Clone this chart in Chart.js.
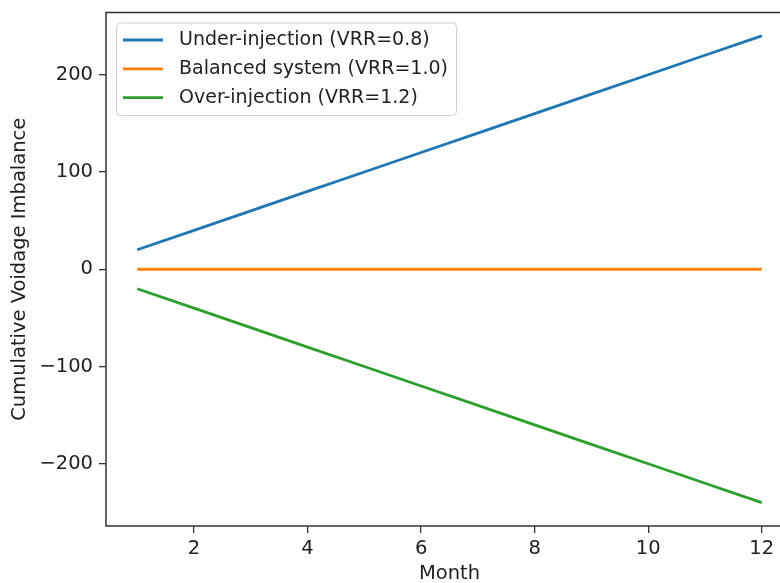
<!DOCTYPE html>
<html>
<head>
<meta charset="utf-8">
<script src="https://cdn.jsdelivr.net/npm/chart.js@4"></script>
<style>
  html, body { margin: 0; padding: 0; background: #fff; overflow: hidden; }
  #wrap { width: 780px; height: 583px; overflow: hidden; }
</style>
</head>
<body>
<div id="wrap"><canvas id="myChart" width="800" height="583"></canvas></div>
<script>
const months = [1, 2, 3, 4, 5, 6, 7, 8, 9, 10, 11, 12];
const underInjection = [20, 40, 60, 80, 100, 120, 140, 160, 180, 200, 220, 240];
const balanced = [0, 0, 0, 0, 0, 0, 0, 0, 0, 0, 0, 0];
const overInjection = [-20, -40, -60, -80, -100, -120, -140, -160, -180, -200, -220, -240];
const xTicks = [2, 4, 6, 8, 10, 12];
const yTicks = [-200, -100, 0, 100, 200];

const ctx = document.getElementById('myChart');
const textColor = '#1f1f1f';
const spineColor = '#333333';
const fs = 19.5;
const font = { family: 'DejaVu Sans', size: fs };

const toPoints = (ys) => months.map((m, i) => ({ x: m, y: ys[i] }));

// marco del area de la grafica
const frame = {
  id: 'frame',
  afterDatasetsDraw(chart) {
    const c = chart.ctx;
    const a = chart.chartArea;
    c.save();
    c.strokeStyle = spineColor;
    c.lineWidth = 1.5;
    c.strokeRect(a.left, a.top, a.right - a.left, a.bottom - a.top);
    c.restore();
  }
};

// leyenda dibujada dentro del area, arriba a la izquierda
const legendBox = {
  id: 'legendBox',
  afterDraw(chart) {
    const c = chart.ctx;
    const a = chart.chartArea;
    const sets = chart.data.datasets;
    c.save();
    c.font = '19px "DejaVu Sans"';
    const textW = Math.max(...sets.map(d => c.measureText(d.label).width));
    const bx = a.left + 10, by = a.top + 10;
    const pad = 7, handle = 40, gap = 16, rowH = 28.8, first = 17.5;
    const bw = pad + handle + gap + textW + 8;
    const bh = first * 2 + rowH * (sets.length - 1);
    c.fillStyle = 'rgba(255,255,255,0.8)';
    c.strokeStyle = '#d0d0d0';
    c.lineWidth = 1;
    c.beginPath();
    c.roundRect(bx + 0.5, by + 0.5, bw, bh, 4);
    c.fill();
    c.stroke();
    sets.forEach((d, i) => {
      const y = by + first + i * rowH;
      c.strokeStyle = d.borderColor;
      c.lineWidth = 2.8;
      c.beginPath();
      c.moveTo(bx + pad, y);
      c.lineTo(bx + pad + handle, y);
      c.stroke();
      c.fillStyle = textColor;
      c.textBaseline = 'middle';
      c.textAlign = 'left';
      c.fillText(d.label, bx + pad + handle + gap, y);
    });
    c.restore();
  }
};

new Chart(ctx, {
  type: 'line',
  data: {
    datasets: [
      { label: 'Under-injection (VRR=0.8)', data: toPoints(underInjection), borderColor: '#1f77b4', backgroundColor: '#1f77b4' },
      { label: 'Balanced system (VRR=1.0)', data: toPoints(balanced), borderColor: '#ff7f0e', backgroundColor: '#ff7f0e' },
      { label: 'Over-injection (VRR=1.2)', data: toPoints(overInjection), borderColor: '#2ca02c', backgroundColor: '#2ca02c' }
    ]
  },
  options: {
    responsive: false,
    animation: false,
    layout: { padding: { left: 0, top: 12.5, right: 7, bottom: 0 } },
    elements: {
      line: { borderWidth: 2.8, tension: 0 },
      point: { radius: 0 }
    },
    plugins: {
      tooltip: { enabled: false },
      legend: { display: false }
    },
    scales: {
      x: {
        type: 'linear',
        min: 0.45,
        max: 12.55,
        afterBuildTicks: (s) => { s.ticks = xTicks.map(v => ({ value: v })); },
        afterFit: (s) => { s.height = 57; s.paddingLeft = 0; s.paddingRight = 0; },
        ticks: { color: textColor, font: font, padding: 4, maxRotation: 0 },
        grid: { drawOnChartArea: false, drawTicks: true, tickLength: 7, color: spineColor, lineWidth: 1.3 },
        border: { display: false },
        title: { display: true, text: 'Month', color: textColor, font: { family: 'DejaVu Sans', size: fs, lineHeight: 1 }, padding: { top: 0, bottom: -1 } }
      },
      y: {
        type: 'linear',
        min: -264,
        max: 264,
        afterBuildTicks: (s) => { s.ticks = yTicks.map(v => ({ value: v })); },
        afterFit: (s) => { s.width = 106; s.paddingTop = 0; s.paddingBottom = 0; },
        ticks: { color: textColor, font: font, padding: 6, callback: (v) => String(v).replace('-', '\u2212') },
        grid: { drawOnChartArea: false, drawTicks: true, tickLength: 7, color: spineColor, lineWidth: 1.3 },
        border: { display: false },
        title: { display: true, text: 'Cumulative Voidage Imbalance', color: textColor, font: font, padding: { top: 8, bottom: 0 } }
      }
    }
  },
  plugins: [frame, legendBox]
});
</script>
</body>
</html>
